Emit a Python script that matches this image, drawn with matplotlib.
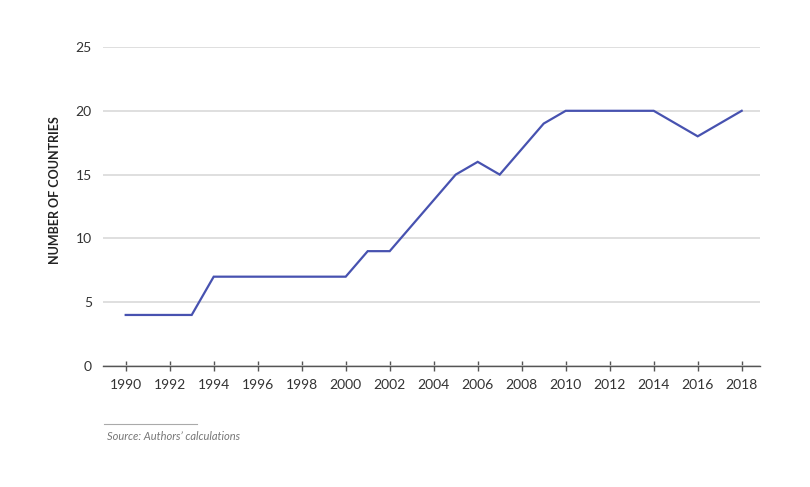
import matplotlib.pyplot as plt
from matplotlib.lines import Line2D

# data
years = list(range(1990, 2019))
countries = [4, 4, 4, 4, 7, 7, 7, 7, 7, 7, 7, 9, 9, 11, 13, 15, 16, 15, 17, 19,
             20, 20, 20, 20, 20, 19, 18, 19, 20]
tick_years = list(range(1990, 2019, 2))
y_ticks = [0, 5, 10, 15, 20, 25]

plt.rcParams['font.family'] = ['Lato', 'DejaVu Sans']

fig = plt.figure(figsize=(8.1, 4.87), dpi=100)
ax = fig.add_axes([103 / 810, 1 - 366 / 487, 657 / 810, 319 / 487])

ax.plot(years, countries, color='#4752b0', linewidth=1.6, solid_joinstyle='miter')

ax.set_ylim(0, 25)
ax.set_xlim(1990 - 22.7 / 22, 1990 + (760 - 125.7) / 22)
ax.set_yticks(y_ticks)
ax.set_xticks(tick_years)
ax.set_xticklabels([str(y) for y in tick_years])

# grid and axes
ax.yaxis.grid(True, color='#d9d9d9', linewidth=1.2)
ax.set_axisbelow(True)
for s in ['top', 'right', 'left']:
    ax.spines[s].set_visible(False)
ax.spines['bottom'].set_color('#555555')
ax.spines['bottom'].set_linewidth(1.0)

ax.tick_params(axis='y', length=0, pad=8, labelsize=10, labelcolor='#333333')
ax.tick_params(axis='x', direction='inout', length=7, width=1.0, color='#555555',
               pad=6, labelsize=10, labelcolor='#333333')

fig.text(55 / 810, 1 - 190 / 487, 'NUMBER OF COUNTRIES', rotation=90, ha='center', va='center',
         fontsize=9, fontweight='bold', color='#222222')

# source note with short rule above
fig.add_artist(Line2D([104 / 810, 197 / 810], [1 - 424 / 487, 1 - 424 / 487],
                      color='#aaaaaa', linewidth=0.8))
fig.text(107 / 810, 1 - 437 / 487, "Source: Authors\u2019 calculations", ha='left', va='center',
         fontsize=8, style='italic', color='#777777')

fig.savefig('out.png', dpi=100)
